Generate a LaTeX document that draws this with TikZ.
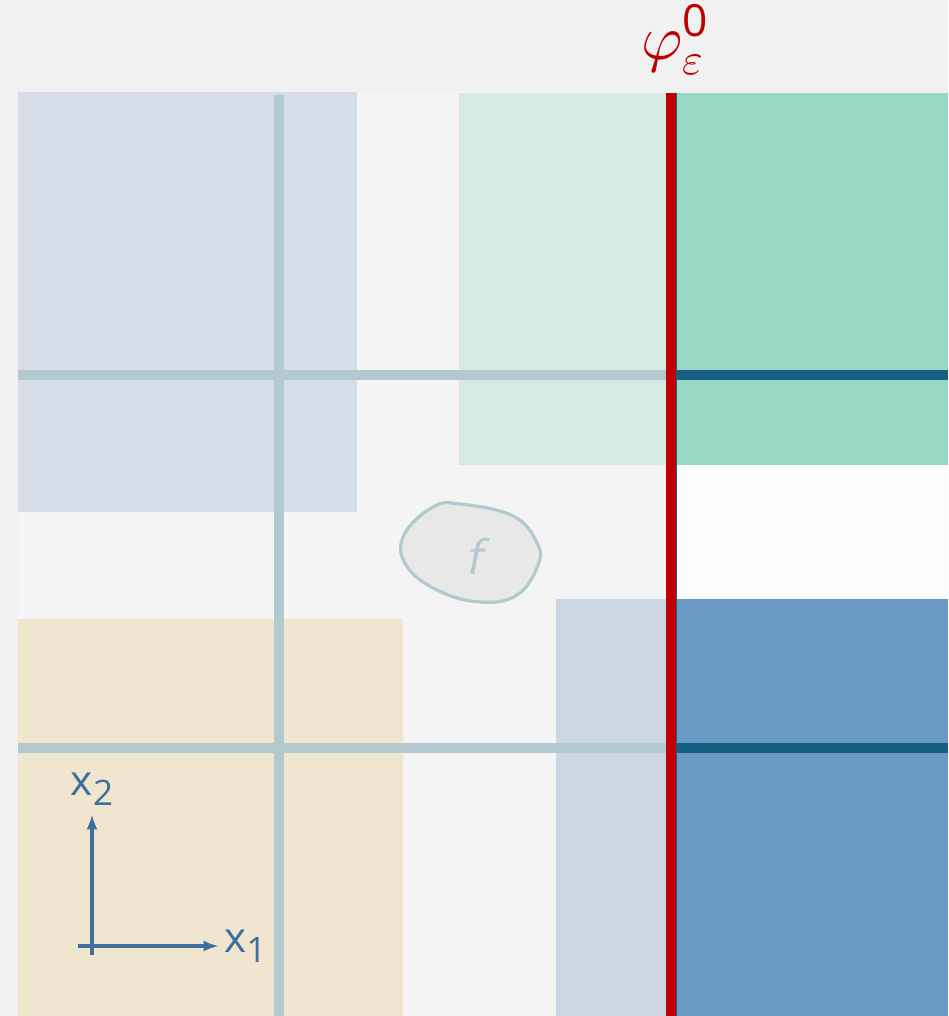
\documentclass[tikz,border=0pt]{standalone}
\usepackage{amsmath}
\usepackage{fontspec}
\usepackage{unicode-math}
\setmathfont{Latin Modern Math}
\setsansfont{Open Sans}
\newfontfamily\slantsans[FakeSlant=0.2]{Open Sans}
\usepackage{tikz}
\usetikzlibrary{calc, positioning}

\definecolor{pagebg}{HTML}{F0F1F0}
\definecolor{fieldbg}{HTML}{F3F4F3}
\definecolor{lavender}{HTML}{D7DDE8}
\definecolor{palegreen}{HTML}{D6E9E3}
\definecolor{mint}{HTML}{97D8C4}
\definecolor{paleblue}{HTML}{CBD8E3}
\definecolor{midblue}{HTML}{6A9AC4}
\definecolor{sand}{HTML}{F0E6CF}
\definecolor{gridline}{HTML}{B2C9D0}
\definecolor{deepblue}{HTML}{165E82}
\definecolor{cutred}{HTML}{C00000}
\definecolor{axisblue}{HTML}{3F6F9F}
\definecolor{blobfill}{HTML}{E8E8E7}

\newcommand{\axlab}[1]{x\raisebox{-0.45ex}{\fontsize{20}{22}\selectfont #1}}

\begin{document}
\begin{tikzpicture}[>=latex, x=0.02cm, y=-0.02cm,
    grid/.style={line width=5.7pt, gridline},
    gridcut/.style={line width=5.7pt, deepblue},
    axis/.style={line width=1.8pt, axisblue},
    axislabel/.style={axisblue, font=\sffamily\fontsize{24}{26}\selectfont}]
  \useasboundingbox (0,0) rectangle (948,1016);
  \fill[pagebg] (0,0) rectangle (948,1016);
  \fill[fieldbg] (18,92) rectangle (948,1016);
  % patches
  \fill[lavender] (18,92) rectangle (357,512);
  \fill[palegreen] (459,93) rectangle (670,465);
  \fill[mint] (676,93) rectangle (948,465);
  \fill[white!60!fieldbg] (676,465) rectangle (948,599);
  \fill[paleblue] (556,599) rectangle (670,1016);
  \fill[midblue] (676,599) rectangle (948,1016);
  \fill[sand] (18,619) rectangle (403,1016);
  % grid lines
  \coordinate (vtop) at (279,95);
  \coordinate (vbot) at (279,1016);
  \draw[grid] (vtop) -- (vbot);
  \coordinate (h1l) at (18,375);
  \coordinate (h1m) at (672,375);
  \coordinate (h1r) at (948,375);
  \coordinate (h2l) at (18,748);
  \coordinate (h2m) at (672,748);
  \coordinate (h2r) at (948,748);
  \draw[grid] (h1l) -- (h1m);
  \draw[grid] (h2l) -- (h2m);
  \draw[gridcut] (h1m) -- (h1r);
  \draw[gridcut] (h2m) -- (h2r);
  % interface
  \coordinate (ctop) at (671,93);
  \coordinate (cbot) at (671,1016);
  \draw[deepblue, line width=0.8pt] ($(ctop)+(5,0)$) -- ($(cbot)+(5,0)$);
  \draw[cutred, line width=5.7pt] (ctop) -- (cbot);
  \node[cutred, font=\fontsize{36}{40}\selectfont, inner sep=0pt] (phi) at (675,40)
    {$\varphi_{\varepsilon}^{\text{\sffamily 0}}$};
  % obstacle
  \draw[gridline, fill=blobfill, line width=1.8pt] plot[smooth cycle, tension=0.7]
    coordinates {(433,507) (460,504) (513,516) (537,543) (538,565)
                 (517,595) (480,602) (437,590) (406,565) (404,535)};
  \node[gridline, font=\slantsans\fontsize{27}{30}\selectfont] (f) at (474,556) {f};
  % axes
  \coordinate (o) at (92,946);
  \draw[axis] ($(o)+(0,9)$) -- (o);
  \draw[axis] ($(o)+(-14,0)$) -- (o);
  \draw[axis, ->] (o) -- ++(0,-131) coordinate (e2);
  \draw[axis, ->] (o) -- ++(126,0) coordinate (e1);
  \node[axislabel, above=2pt of e2] (x2) {\axlab{2}};
  \node[axislabel, right=0pt of e1] (x1) {\axlab{1}};
\end{tikzpicture}
\end{document}
